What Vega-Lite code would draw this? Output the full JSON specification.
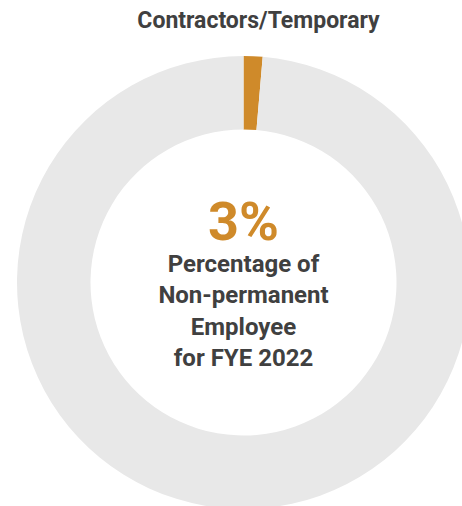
{
  "$schema": "https://vega.github.io/schema/vega-lite/v6.json",
  "width": 487,
  "height": 453,
  "autosize": {"type": "none"},
  "padding": {"left": 0, "top": 56, "right": 0, "bottom": 0},
  "background": "white",
  "view": {"stroke": null},
  "title": {
    "text": "Contractors/Temporary",
    "font": "Roboto",
    "fontSize": 23,
    "fontWeight": "bold",
    "color": "#404040",
    "anchor": "middle",
    "dx": 15,
    "offset": 23
  },
  "data": {
    "values": [
      {"category": "Contractors/Temporary", "value": 1.35, "rank": 1},
      {"category": "Permanent", "value": 98.65, "rank": 2}
    ]
  },
  "layer": [
    {
      "mark": {"type": "arc", "innerRadius": 153, "outerRadius": 226.5},
      "encoding": {
        "theta": {"field": "value", "type": "quantitative", "stack": true},
        "color": {
          "field": "category",
          "type": "nominal",
          "scale": {"domain": ["Contractors/Temporary", "Permanent"], "range": ["#CF8A2A", "#E8E8E8"]},
          "legend": null
        },
        "order": {"field": "rank", "type": "quantitative"}
      }
    },
    {
      "data": {"values": [{"label": "3%"}]},
      "mark": {"type": "text", "font": "Roboto", "fontSize": 54, "fontWeight": "bold", "color": "#CF8A2A", "baseline": "alphabetic", "align": "center", "dy": -43},
      "encoding": {"text": {"field": "label", "type": "nominal"}}
    },
    {
      "data": {"values": [{"label": "Percentage of\nNon-permanent\nEmployee\nfor FYE 2022"}]},
      "mark": {"type": "text", "font": "Roboto", "fontSize": 24, "fontWeight": "bold", "color": "#404040", "baseline": "alphabetic", "align": "center", "lineBreak": "\n", "lineHeight": 31.5, "dy": -11},
      "encoding": {"text": {"field": "label", "type": "nominal"}}
    }
  ]
}
